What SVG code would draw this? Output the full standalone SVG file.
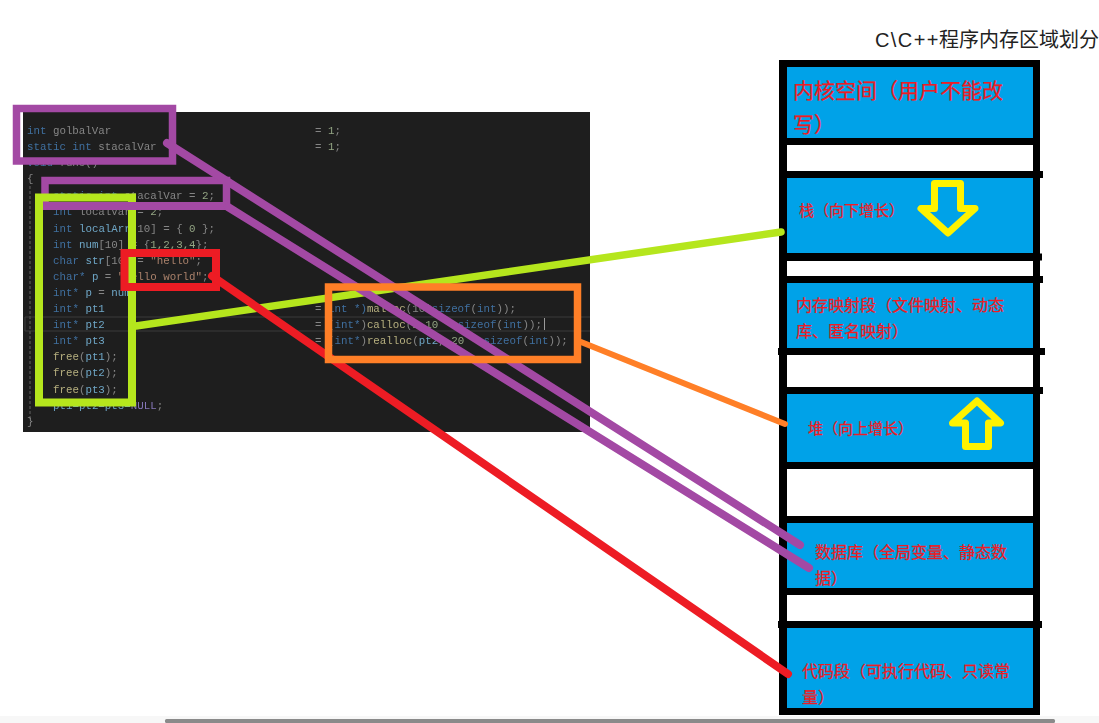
<svg xmlns="http://www.w3.org/2000/svg" width="1099" height="723" viewBox="0 0 1099 723">
<style>
.band{fill:#00a2e8}
.bar{fill:#000}
.stub{stroke:#000;stroke-width:7;fill:none}
.lbl{fill:#ed1c24;stroke:#ed1c24;stroke-width:0.25;font-family:"Liberation Sans","Noto Sans CJK SC",sans-serif}
.l16{font-size:16px}
.l15{font-size:15px}
.l21{font-size:21px}
.arrow{fill:none;stroke:#fff200;stroke-width:7;stroke-linejoin:round}
.code{font-family:"Liberation Mono","DejaVu Sans Mono",monospace;font-size:10.8px;fill:#858585;white-space:pre}
.k{fill:#3f6f9f}
.v{fill:#6ea6c6}
.f{fill:#b5ae7e}
.n{fill:#93a583}
.s{fill:#a9806a}
.m{fill:#8576b8}
.box{fill:none;stroke-linejoin:miter}
.conn{fill:none;stroke-linecap:round}
</style>
<defs>
<filter id="soft" x="-2%" y="-2%" width="104%" height="104%"><feGaussianBlur stdDeviation="0.5"/></filter>
</defs>
<rect width="1099" height="723" fill="#fff"/>
<g id="scrollbar">
<rect x="0" y="716" width="1099" height="7" fill="#f7f7f7"/>
<rect x="165" y="719" width="890" height="4" rx="1.5" fill="#8a8a8a"/>
</g>
<g id="code-panel">
<rect x="23" y="112" width="567" height="320" fill="#1e1e1e"/>
<path d="M25 317H590M25 331H590M25 317V331" stroke="#3a3a3a" stroke-width="1.2" fill="none"/>
<path d="M30 186V420" stroke="#404040" stroke-width="2" stroke-dasharray="3 2" fill="none"/>
<path d="M544.500 318V330" stroke="#9a9a9a" stroke-width="1" fill="none"/>
<g class="code" filter="url(#soft)">
<text x="27" y="134"><tspan class="k">int</tspan> golbalVar</text>
<text x="27" y="150"><tspan class="k">static int</tspan> stacalVar</text>
<text x="27" y="166"><tspan class="k">void</tspan> func()</text>
<text x="27" y="182">{</text>
<text x="53" y="199"><tspan class="k">static int</tspan> stacalVar = <tspan class="n">2</tspan>;</text>
<text x="53" y="215"><tspan class="k">int</tspan> localVar = <tspan class="n">2</tspan>;</text>
<text x="53" y="232"><tspan class="k">int</tspan> <tspan class="v">localArr</tspan>[10] = { <tspan class="n">0</tspan> };</text>
<text x="53" y="248"><tspan class="k">int</tspan> <tspan class="v">num</tspan>[10] = {<tspan class="n">1,2,3,4</tspan>};</text>
<text x="53" y="264"><tspan class="k">char</tspan> <tspan class="v">str</tspan>[10] = <tspan class="s">"hello"</tspan>;</text>
<text x="53" y="280"><tspan class="k">char*</tspan> <tspan class="v">p</tspan> = <tspan class="s">"hello world"</tspan>;</text>
<text x="53" y="296"><tspan class="k">int*</tspan> <tspan class="v">p</tspan> = <tspan class="v">num</tspan>;</text>
<text x="53" y="312"><tspan class="k">int*</tspan> <tspan class="v">pt1</tspan></text>
<text x="53" y="328"><tspan class="k">int*</tspan> <tspan class="v">pt2</tspan></text>
<text x="53" y="344"><tspan class="k">int*</tspan> <tspan class="v">pt3</tspan></text>
<text x="53" y="360"><tspan class="f">free</tspan>(<tspan class="v">pt1</tspan>);</text>
<text x="53" y="376"><tspan class="f">free</tspan>(<tspan class="v">pt2</tspan>);</text>
<text x="53" y="393"><tspan class="f">free</tspan>(<tspan class="v">pt3</tspan>);</text>
<text x="53" y="409"><tspan class="v">pt1=pt2=pt3=</tspan><tspan class="m">NULL</tspan>;</text>
<text x="27" y="425">}</text>
<text x="315" y="134">= <tspan class="n">1</tspan>;</text>
<text x="315" y="150">= <tspan class="n">1</tspan>;</text>
<text x="315" y="312">=</text>
<text x="315" y="328">=</text>
<text x="315" y="344">=</text>
<text x="328" y="312"><tspan class="k">int *)</tspan><tspan class="f">malloc</tspan>(10*<tspan class="k">sizeof</tspan>(<tspan class="k">int</tspan>));</text>
<text x="328" y="328">(<tspan class="k">int*</tspan>)<tspan class="f">calloc</tspan>(<tspan class="n">1,10</tspan> * <tspan class="k">sizeof</tspan>(<tspan class="k">int</tspan>));</text>
<text x="328" y="344">(<tspan class="k">int*</tspan>)<tspan class="f">realloc</tspan>(<tspan class="v">pt2</tspan>, <tspan class="n">20</tspan> * <tspan class="k">sizeof</tspan>(<tspan class="k">int</tspan>));</text>
</g>
</g>
<g id="memory-map">
<text x="875" y="47" font-family="'Liberation Sans','Noto Sans CJK SC',sans-serif" font-size="20" fill="#222" id="title"><tspan letter-spacing="1.400">C\C++</tspan><tspan x="939">程序内存区域划分</tspan></text>
<rect x="779" y="60" width="261" height="655" class="bar"/>
<rect x="787" y="67" width="246" height="641" fill="#fff"/>
<g id="kernel">
<rect x="787" y="67" width="246" height="71" class="band"/>
<text x="793" y="98" class="lbl l21">内核空间（用户不能改</text>
<text x="793" y="132" class="lbl l21">写）</text>
</g>
<rect x="787" y="138" width="246" height="7" class="bar"/>
<rect x="787" y="171" width="246" height="7" class="bar"/>
<g id="stack">
<rect x="787" y="178" width="246" height="75" class="band"/>
<text x="799" y="216" class="lbl l15">栈（向下增长）</text>
<path class="arrow" d="M934.500 183.500H960.500V208.500H975L948 233L921 208.500H934.500Z"/>
</g>
<rect x="787" y="253" width="246" height="8" class="bar"/>
<rect x="787" y="276" width="246" height="7" class="bar"/>
<g id="mmap">
<rect x="787" y="283" width="246" height="65" class="band"/>
<text x="796" y="311" class="lbl l16">内存映射段（文件映射、动态</text>
<text x="796" y="337" class="lbl l16">库、匿名映射）</text>
</g>
<rect x="787" y="348" width="246" height="7" class="bar"/>
<rect x="787" y="387" width="246" height="7" class="bar"/>
<g id="heap">
<rect x="787" y="394" width="246" height="68" class="band"/>
<text x="808" y="434" class="lbl l15">堆（向上增长）</text>
<path class="arrow" d="M977 401L1000.500 423H988.500V446.500H965.500V423H952.500Z"/>
</g>
<rect x="787" y="462" width="246" height="7" class="bar"/>
<rect x="787" y="516" width="246" height="7" class="bar"/>
<g id="data">
<rect x="787" y="523" width="246" height="65" class="band"/>
<text x="815" y="558" class="lbl l16">数据库（全局变量、静态数</text>
<text x="815" y="584" class="lbl l16">据）</text>
</g>
<rect x="787" y="588" width="246" height="7" class="bar"/>
<rect x="787" y="621" width="246" height="7" class="bar"/>
<g id="text-segment">
<rect x="787" y="628" width="246" height="80" class="band"/>
<text x="802" y="677" class="lbl l16">代码段（可执行代码、只读常</text>
<text x="802" y="703" class="lbl l16">量）</text>
</g>
<g id="stubs">
<path class="stub" d="M1036 174.500H1043"/>
<path class="stub" d="M1036 257H1042"/>
<path class="stub" d="M1036 279.500H1043"/>
<path class="stub" d="M778 351.500H1045"/>
<path class="stub" d="M1036 390.500H1043"/>
<path class="stub" d="M778 624.500H1042"/>
</g>
</g>
<g id="box-data-global"><rect x="16.500" y="108.500" width="156" height="52.500" class="box" stroke="#a349a4" stroke-width="7.500"/></g>
<g id="box-data-static"><rect x="45" y="180.500" width="181.500" height="25.500" class="box" stroke="#a349a4" stroke-width="7.500"/></g>
<g id="box-stack"><rect x="39" y="197.500" width="93" height="205" class="box" stroke="#b5e61d" stroke-width="8"/></g>
<path id="box-data-static-edge" d="M43 206H230" stroke="#a349a4" stroke-width="8" fill="none"/>
<g id="box-text"><rect x="124.500" y="253" width="91.500" height="34" class="box" stroke="#ed1c24" stroke-width="8"/></g>
<g id="connectors">
<path class="conn" d="M136 326L781 232" stroke="#b5e61d" stroke-width="7.500"/>
<path class="conn" d="M167 143L800 545" stroke="#a349a4" stroke-width="8"/>
<path class="conn" d="M228 207L809 568" stroke="#a349a4" stroke-width="8"/>
<path class="conn" d="M212 276L788 674" stroke="#ed1c24" stroke-width="8"/>
<path class="conn" d="M581 342L785 424" stroke="#ff7f27" stroke-width="6"/>
</g>
<g id="box-heap"><rect x="328.500" y="287" width="249" height="72.500" class="box" stroke="#ff7f27" stroke-width="7.500"/></g>
</svg>
